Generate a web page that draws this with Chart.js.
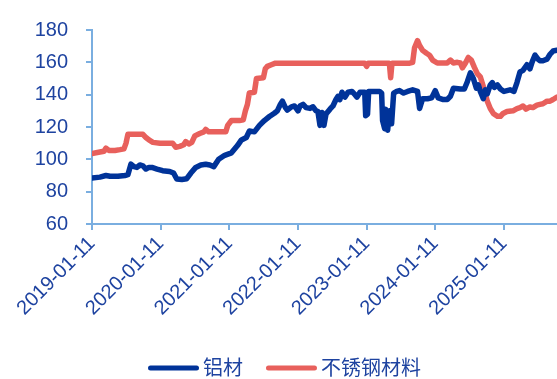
<!DOCTYPE html>
<html>
<head>
<meta charset="utf-8">
<script src="https://cdn.jsdelivr.net/npm/chart.js@4.4.1/dist/chart.umd.min.js"></script>
<style>
  html, body { margin: 0; padding: 0; background: #ffffff; }
  #wrap { width: 557px; height: 379px; position: relative; }
</style>
</head>
<body>
<div id="wrap"><canvas id="chart"></canvas></div>
<script>
// Series names shown in the legend
const seriesNames = ['铝材', '不锈钢材料'];

// Dates labelled on the horizontal axis
const tickLabels = ['2019-01-11', '2020-01-11', '2021-01-11', '2022-01-11', '2023-01-11', '2024-01-11', '2025-01-11'];

// Vertical axis range
const yMin = 60;
const yMax = 180;
const yStep = 20;

// 铝材 price index: [date, value]
const aluminum = [
  ['2019-01-11', 88.5], ['2019-02-22', 89], ['2019-03-26', 90], ['2019-04-17', 89.5], ['2019-05-29', 89.5],
  ['2019-07-05', 90], ['2019-07-21', 90.5], ['2019-08-06', 97], ['2019-08-22', 95.5], ['2019-09-07', 95],
  ['2019-09-23', 96.5], ['2019-10-09', 96], ['2019-10-25', 94], ['2019-11-10', 95], ['2019-11-26', 95],
  ['2019-12-23', 94], ['2020-01-22', 93], ['2020-02-28', 92.5], ['2020-03-20', 91.5], ['2020-04-06', 87.8],
  ['2020-05-03', 87.5], ['2020-05-29', 88], ['2020-06-20', 91.5], ['2020-07-16', 95], ['2020-08-12', 96.5],
  ['2020-09-07', 97], ['2020-09-29', 96.5], ['2020-10-20', 95.5], ['2020-11-15', 100], ['2020-12-17', 102.5],
  ['2021-01-22', 104], ['2021-02-23', 108.5], ['2021-03-16', 112], ['2021-04-11', 113.5], ['2021-04-27', 117.5],
  ['2021-05-24', 117], ['2021-06-20', 121], ['2021-07-16', 124], ['2021-08-12', 126.5], ['2021-09-07', 128.5],
  ['2021-09-23', 130], ['2021-10-09', 134], ['2021-10-20', 136], ['2021-11-05', 132], ['2021-11-15', 130.5],
  ['2021-12-07', 132.5], ['2021-12-23', 133], ['2022-01-11', 130], ['2022-01-22', 133], ['2022-02-07', 134],
  ['2022-02-23', 132], ['2022-03-16', 131.5], ['2022-04-01', 132.5], ['2022-04-17', 130], ['2022-04-27', 129.5],
  ['2022-05-08', 121], ['2022-05-19', 129], ['2022-05-29', 121], ['2022-06-09', 128], ['2022-06-30', 131],
  ['2022-07-16', 133], ['2022-08-01', 137], ['2022-08-12', 139], ['2022-08-22', 137], ['2022-09-02', 141.5],
  ['2022-09-18', 138.5], ['2022-10-04', 141.5], ['2022-10-25', 142], ['2022-11-10', 140], ['2022-11-21', 138.5],
  ['2022-12-07', 141.5], ['2023-01-01', 141.5], ['2023-01-06', 127], ['2023-01-16', 128], ['2023-01-22', 142],
  ['2023-02-23', 142], ['2023-03-21', 142], ['2023-04-01', 141], ['2023-04-06', 124], ['2023-04-17', 119],
  ['2023-04-22', 131], ['2023-05-03', 118], ['2023-05-13', 130], ['2023-05-24', 122], ['2023-06-04', 141],
  ['2023-06-20', 142], ['2023-07-05', 142.5], ['2023-07-27', 141], ['2023-08-17', 142], ['2023-09-13', 143],
  ['2023-10-09', 142], ['2023-10-20', 131.5], ['2023-11-05', 137.5], ['2023-12-01', 137.5], ['2023-12-23', 138],
  ['2024-01-11', 142.5], ['2024-01-27', 138], ['2024-02-23', 137], ['2024-03-15', 137], ['2024-04-01', 139],
  ['2024-04-17', 144], ['2024-05-24', 143.5], ['2024-06-14', 143.5], ['2024-06-30', 148], ['2024-07-16', 153.5],
  ['2024-08-01', 150], ['2024-08-17', 144], ['2024-08-28', 146], ['2024-09-07', 142], ['2024-09-23', 137.5],
  ['2024-10-04', 143], ['2024-10-14', 140.5], ['2024-10-30', 146], ['2024-11-10', 147.5], ['2024-11-21', 144.5],
  ['2024-12-07', 146], ['2024-12-23', 143.5], ['2025-01-11', 142], ['2025-02-12', 143], ['2025-03-05', 142],
  ['2025-03-21', 147.5], ['2025-04-06', 154], ['2025-04-22', 155], ['2025-05-13', 158.5], ['2025-05-29', 156],
  ['2025-06-09', 160], ['2025-06-25', 164.5], ['2025-07-11', 162], ['2025-07-21', 161], ['2025-08-06', 161],
  ['2025-08-28', 162], ['2025-09-13', 165], ['2025-09-29', 167], ['2025-10-20', 167.5]
];

// 不锈钢材料 price index: [date, value]
const stainless = [
  ['2019-01-11', 103.5], ['2019-02-22', 104.5], ['2019-03-16', 105], ['2019-03-26', 107], ['2019-04-11', 105.5],
  ['2019-05-13', 105.5], ['2019-06-09', 106], ['2019-06-30', 106.5], ['2019-07-11', 110], ['2019-07-21', 115.5],
  ['2019-08-28', 115.5], ['2019-10-09', 115.5], ['2019-10-25', 113.5], ['2019-11-10', 112], ['2019-12-01', 110.5],
  ['2020-01-08', 110], ['2020-02-17', 110], ['2020-03-15', 110], ['2020-04-01', 107.5], ['2020-04-22', 108],
  ['2020-05-13', 109], ['2020-05-24', 111], ['2020-06-09', 109.5], ['2020-06-25', 110.5], ['2020-07-11', 114.5],
  ['2020-08-06', 116], ['2020-08-28', 117], ['2020-09-07', 118.5], ['2020-09-23', 117], ['2020-10-25', 117],
  ['2020-11-21', 117], ['2020-12-23', 117], ['2021-01-02', 121], ['2021-01-22', 124], ['2021-03-05', 124],
  ['2021-03-26', 124.5], ['2021-04-06', 130], ['2021-04-17', 134], ['2021-04-27', 141], ['2021-05-24', 141.5],
  ['2021-06-04', 150], ['2021-07-11', 150.5], ['2021-07-21', 156], ['2021-08-01', 157.5], ['2021-08-22', 158.5],
  ['2021-09-13', 159.5], ['2022-12-31', 159.5], ['2023-01-11', 157.5], ['2023-01-20', 159.5], ['2023-05-12', 159.5],
  ['2023-05-19', 150.5], ['2023-05-26', 159.5], ['2023-08-28', 159.5], ['2023-09-13', 160], ['2023-09-23', 169],
  ['2023-10-09', 173.4], ['2023-10-20', 170.4], ['2023-11-05', 167.4], ['2023-11-26', 165.6], ['2023-12-12', 164.4],
  ['2023-12-28', 161.4], ['2024-01-22', 159.6], ['2024-03-15', 159.6], ['2024-04-01', 161.4], ['2024-04-17', 159.6],
  ['2024-05-08', 160], ['2024-05-24', 159.6], ['2024-06-04', 156.6], ['2024-06-20', 159.6], ['2024-07-05', 163],
  ['2024-07-21', 161.4], ['2024-08-06', 157], ['2024-08-22', 153], ['2024-09-07', 151], ['2024-09-23', 145],
  ['2024-10-04', 140.4], ['2024-10-14', 136], ['2024-10-30', 131.4], ['2024-11-15', 128.4], ['2024-12-07', 126.6],
  ['2024-12-23', 126.6], ['2025-01-06', 128.4], ['2025-01-27', 129.6], ['2025-02-28', 130], ['2025-03-21', 131.4],
  ['2025-04-06', 132], ['2025-04-22', 133], ['2025-05-08', 131], ['2025-05-29', 132.4], ['2025-06-14', 132],
  ['2025-07-05', 133.5], ['2025-07-21', 134], ['2025-08-06', 134.4], ['2025-08-28', 136], ['2025-09-13', 136],
  ['2025-09-29', 137], ['2025-10-20', 138.5]
];

// Colours and type
const lineColors = ['#003399', '#e8605c'];
const textColor = '#1e43a0';
const axisColor = '#7aaee0';
const fontFamily = '"Liberation Sans", Arial, sans-serif';
const cjkFamily = '"Noto Sans CJK SC", sans-serif';

// Dates become day offsets from the first labelled date, so the x axis is a linear day scale
const baseTime = Date.parse(tickLabels[0] + 'T00:00:00Z');
const toDay = s => (Date.parse(s + 'T00:00:00Z') - baseTime) / 86400000;
const toPoints = rows => rows.map(([d, v]) => ({ x: toDay(d), y: v }));
const tickDays = tickLabels.map(toDay);
const lastDay = Math.max(toDay(aluminum[aluminum.length - 1][0]), toDay(stainless[stainless.length - 1][0]));

// Legend drawn under the axis labels: a short line swatch followed by the series name
const bottomLegend = {
  id: 'bottomLegend',
  afterDraw(chart) {
    const ctx = chart.ctx;
    ctx.save();
    ctx.font = '20px ' + cjkFamily;
    ctx.textBaseline = 'middle';
    const y = 367;
    let x = 148;
    chart.data.datasets.forEach(ds => {
      ctx.strokeStyle = ds.borderColor;
      ctx.lineWidth = 5;
      ctx.lineCap = 'round';
      ctx.beginPath();
      ctx.moveTo(x + 2.5, y + 1);
      ctx.lineTo(x + 48.5, y + 1);
      ctx.stroke();
      x += 55;
      ctx.fillStyle = textColor;
      ctx.fillText(ds.label, x, y);
      x += ctx.measureText(ds.label).width + 23;
    });
    ctx.restore();
  }
};

new Chart(document.getElementById('chart'), {
  type: 'line',
  data: {
    datasets: [
      { label: seriesNames[0], data: toPoints(aluminum), borderColor: lineColors[0], backgroundColor: lineColors[0] },
      { label: seriesNames[1], data: toPoints(stainless), borderColor: lineColors[1], backgroundColor: lineColors[1] }
    ]
  },
  options: {
    responsive: true,
    maintainAspectRatio: false,
    animation: false,
    layout: { padding: { top: 24, right: 0, bottom: 0, left: 0 } },
    plugins: {
      legend: { display: false },
      tooltip: { enabled: false }
    },
    elements: {
      point: { radius: 0 },
      line: { tension: 0, borderWidth: 5.5, borderCapStyle: 'round', borderJoinStyle: 'round' }
    },
    scales: {
      x: {
        type: 'linear',
        min: 0,
        max: lastDay,
        afterBuildTicks: scale => { scale.ticks = tickDays.map(v => ({ value: v })); },
        afterFit: scale => { scale.height = 155; },
        ticks: {
          autoSkip: false,
          maxRotation: 45,
          minRotation: 45,
          padding: 2,
          color: textColor,
          font: { size: 20, family: fontFamily },
          callback: (value, index) => tickLabels[index]
        },
        grid: { drawOnChartArea: false, drawTicks: true, tickLength: 6, color: axisColor, lineWidth: 2 },
        border: { color: axisColor, width: 2 }
      },
      y: {
        min: yMin,
        max: yMax,
        afterFit: scale => { scale.width = 92; },
        ticks: {
          stepSize: yStep,
          padding: 18,
          color: textColor,
          font: { size: 20, family: fontFamily }
        },
        grid: { drawOnChartArea: false, drawTicks: true, tickLength: 6, color: axisColor, lineWidth: 2 },
        border: { color: axisColor, width: 2 }
      }
    }
  },
  plugins: [bottomLegend]
});
</script>
</body>
</html>
